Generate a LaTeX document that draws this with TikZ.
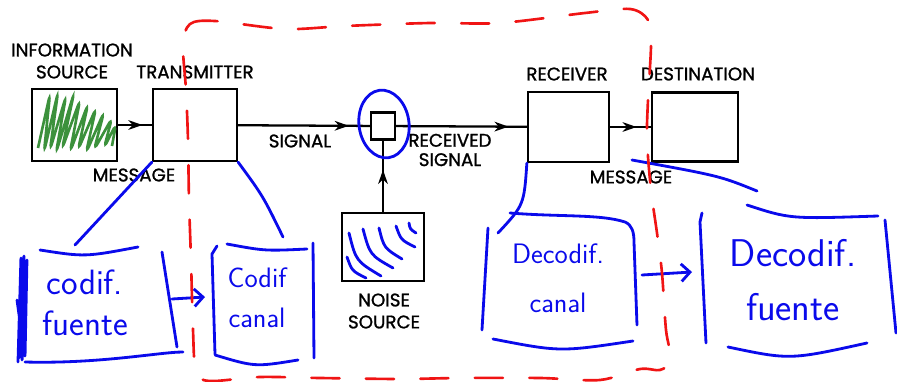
\documentclass[tikz,border=0pt]{standalone}
\usepackage{fontspec}
\newfontfamily\capsfont[FakeBold=1.2]{Poppins}
\usetikzlibrary{arrows.meta, decorations.markings, calc}
\definecolor{penblue}{RGB}{10,10,235}
\definecolor{pengreen}{RGB}{60,145,60}
\definecolor{penred}{RGB}{240,20,20}

\begin{document}
\begin{tikzpicture}[x=0.02cm, y=-0.02cm,
	blk/.style={draw, line width=1.3pt, inner sep=0pt},
	lbl/.style={font=\capsfont\fontsize{10.4}{12.5}\selectfont, align=center, inner sep=0pt},
	wire/.style={line width=1.3pt},
	midarrow/.style={postaction={decorate, decoration={markings,
		mark=at position #1 with {\arrow{Stealth[length=8pt, width=5.5pt, inset=2.5pt]}}}}},
	pen/.style={penblue, line width=1.6pt, line cap=round, line join=round},
	note/.style={penblue, align=center, inner sep=0pt},
	barb/.style={pen, -{Straight Barb[length=5pt, width=10pt]}}]
	\useasboundingbox (0,0) rectangle (897,382);

	% the printed diagram
	\node[blk, minimum width=1.70cm, minimum height=1.44cm] (src) at (74.5,125) {};
	\node[blk, minimum width=1.68cm, minimum height=1.44cm] (tx) at (195,125) {};
	\node[blk, minimum width=0.48cm, minimum height=0.54cm] (ch) at (383,126) {};
	\node[blk, minimum width=1.64cm, minimum height=1.36cm] (noise) at (383,247) {};
	\node[blk, minimum width=1.62cm, minimum height=1.40cm] (rx) at (568.5,127) {};
	\node[blk, minimum width=1.72cm, minimum height=1.38cm] (dst) at (695,127) {};

	\draw[wire, midarrow=0.72] (src) -- (tx);
	\draw[wire, midarrow=0.84] (tx) -- (ch);
	\draw[wire, midarrow=0.86] (ch) -- (rx);
	\draw[wire, midarrow=0.65] (rx) -- (dst);
	\draw[wire, midarrow=0.59] (noise) -- (ch);

	\node[lbl] (srclbl) at (72,61) {INFORMATION\\SOURCE};
	\node[lbl] (txlbl) at (195,72) {TRANSMITTER};
	\node[lbl] (msgl) at (134,175) {MESSAGE};
	\node[lbl] (siglbl) at (300,141) {SIGNAL};
	\node[lbl, font=\capsfont\fontsize{10.4}{11}\selectfont] (rsiglbl) at (450,150) {RECEIVED\\SIGNAL};
	\node[lbl] (nslbl) at (384,311) {NOISE\\SOURCE};
	\node[lbl] (rxlbl) at (567,74) {RECEIVER};
	\node[lbl] (dstlbl) at (698,74) {DESTINATION};
	\node[lbl] (msgr) at (631,177) {MESSAGE};

	% green scribble over the source
	\draw[pengreen, line width=1.5pt, rounded corners=4pt] (38,148)
		\foreach \xt/\yt/\xb/\yb in {50/94/44/152, 58/92/50/150, 66/96/56/153, 74/93/62/149,
			80/100/70/152, 88/104/78/150, 96/108/86/153, 104/112/94/150, 112/118/104/148,
			116/124/112/146}
		{ -- (\xt,\yt) -- (\xb,\yb) };

	% noise waves
	\foreach \xa/\ya/\xc/\yc/\xb/\yb in {347/257/352/271/366/278, 349/233/356/261/381/276,
		363/229/370/255/393/268, 379/228/384/248/402/259, 396/226/401/240/415/247,
		409/223/410/229/416/233}
		\draw[pen] (\xa,\ya) .. controls (\xc,\yc) .. (\xb,\yb);
	\draw[pen, rotate around={8:(384,124)}] (384,124) ellipse [x radius=25, y radius=34];

	% blue notes
	\coordinate (a1) at (75,245);
	\coordinate (a2) at (283,237);
	\coordinate (aR) at (172,299);
	\coordinate (bL) at (205,297);
	\coordinate (c1) at (498,233);
	\coordinate (cR) at (642,275);
	\coordinate (dL) at (692,272);
	\coordinate (d0) at (632,160);
	\coordinate (d1) at (757,191);

	\draw[pen] (tx.south west) -- (a1);
	\draw[pen] (tx.south east) .. controls (263,196) .. (a2);
	\draw[pen] (rx.south west) .. controls (524,205) .. (c1);
	\draw[pen] (d0) .. controls (720,176) .. (d1);

	% codif fuente
	\draw[pen] (40,250) .. controls (85,257) .. (138,247);
	\draw[pen, rounded corners=2pt] (18,362) -- (21,256) -- (19,360) -- (24,254)
		-- (22,362) -- (27,258) -- (25,358) -- (17,300);
	\draw[pen] (162,252) -- (177,347);
	\draw[pen] (25,362) .. controls (100,364) and (160,352) .. (183,352);
	\node[note, font=\sffamily\fontsize{20}{23}\selectfont] (cf) at (85,303) {codif.\\fuente};
	\draw[barb] (aR) -- (bL);

	% codif canal
	\draw[pen] (217,246) -- (212,254) -- (215,354);
	\draw[pen] (227,244) .. controls (265,251) .. (307,249);
	\draw[pen] (313,243) -- (314,358);
	\draw[pen] (215,355) .. controls (255,367) .. (298,360);
	\node[note, font=\sffamily\fontsize{16}{23}\selectfont] (cc) at (257,298) {Codif\\canal};

	% decodif canal
	\draw[pen] (488,228) -- (482,330);
	\draw[pen] (510,213) .. controls (560,217) and (600,214) .. (625,222)
		.. controls (632,225) and (634,232) .. (634,242) -- (637,325);
	\draw[pen] (493,339) .. controls (560,352) .. (633,341);
	\node[note, font=\sffamily\fontsize{16}{28}\selectfont] (dc) at (558,278) {Decodif.\\canal};
	\draw[barb] (cR) -- (dL);

	% decodif fuente
	\draw[pen] (702,213) -- (700,222) -- (706,343);
	\draw[pen] (747,205) .. controls (790,219) .. (878,216);
	\draw[pen] (885,220) -- (896,333);
	\draw[pen] (728,347) .. controls (790,360) .. (867,343);
	\node[note, font=\sffamily\fontsize{22}{31}\selectfont] (df) at (793,280) {Decodif.\\fuente};

	% red channel loop
	\draw[penred, line width=1.5pt, line cap=round, dash pattern=on 16pt off 15pt]
		plot[smooth cycle] coordinates {(183,45) (190,24) (215,21) (285,29) (345,26)
		(430,23) (500,23) (585,13) (630,9) (648,20) (651,45) (648,100) (647,140)
		(651,190) (657,233) (662,273) (666,330) (671,360) (660,370) (640,369)
		(600,380) (540,378) (460,378) (400,379) (320,378) (260,377) (210,381)
		(196,372) (193,330) (191,260) (189,200) (188,140) (186,90)};
\end{tikzpicture}
\end{document}
